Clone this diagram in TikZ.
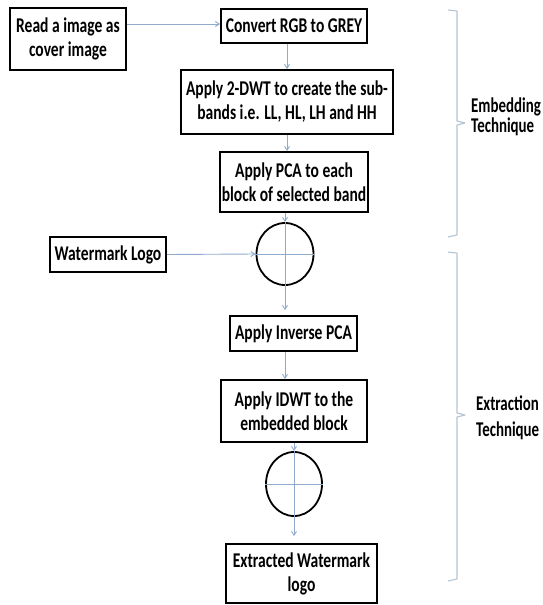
\documentclass[tikz,border=0pt]{standalone}
\usepackage{fontspec}
\setmainfont{Carlito}[FakeStretch=0.74]
\newfontfamily\sidefont{Carlito}[FakeStretch=0.71]
\usetikzlibrary{arrows.meta,shapes.geometric}
\definecolor{conncol}{HTML}{8FAACB}
\definecolor{bracecol}{HTML}{B4C4D2}
\begin{document}
\begin{tikzpicture}[x=1pt,y=1pt,
  stepbox/.style={draw=black,line width=1.8pt,inner sep=2pt,align=center,
     font=\fontsize{21}{24}\selectfont\bfseries},
  oplus/.style={draw=black,line width=1.8pt,ellipse,inner sep=0pt},
  conn/.style={draw=conncol,line width=0.9pt,-{Straight Barb[length=4pt,width=5pt]}},
  plain/.style={draw=conncol,line width=0.9pt},
  bracel/.style={draw=bracecol,line width=1.1pt,line join=round},
  sidelabel/.style={anchor=west,align=left,inner sep=0pt,
     font=\sidefont\fontsize{21}{20}\selectfont\bfseries}]
\useasboundingbox (0,0) rectangle (543,-605);

\node[stepbox,minimum width=116pt,minimum height=62pt] (b1) at (68,-39) {Read a image as\\cover image};
\node[stepbox,minimum width=146pt,minimum height=34pt] (b2) at (294,-26) {Convert RGB to GREY};
\node[stepbox,minimum width=212pt,minimum height=64pt] (b3) at (287,-102) {Apply 2-DWT to create the sub-\\bands i.e. LL, HL, LH and HH};
\node[stepbox,minimum width=146pt,minimum height=60pt] (b4) at (294,-182) {Apply PCA to each\\block of selected band};
\node[oplus,minimum width=57pt,minimum height=62pt] (c1) at (285,-254) {};
\node[stepbox,minimum width=116pt,minimum height=35pt] (wm) at (108,-254.5) {Watermark Logo};
\node[stepbox,minimum width=127pt,minimum height=35pt] (b5) at (293.5,-333.5) {Apply Inverse PCA};
\node[stepbox,minimum width=146pt,minimum height=62pt] (b6) at (294,-411) {Apply IDWT to the\\embedded block};
\node[oplus,minimum width=56pt,minimum height=64pt] (c2) at (294,-484) {};
\node[stepbox,minimum width=151pt,minimum height=59pt] (b7) at (301.5,-573.5) {Extracted Watermark\\logo};

% connectors
\draw[conn] (b1.east |- 0,-24) -- (b2.west |- 0,-24);
\draw[conn] (b2.south -| b3.north) -- (b3.north);
\draw[conn] (b3.south) -- (b4.north -| b3.south);
\draw[conn] (b4.south -| c1.north) -- (c1.north);
\draw[conn,shorten >=5pt] (c1.north) -- (b5.north -| c1.north);
\draw[conn] (wm.east) -- (c1.west);
\draw[plain] (c1.west) -- (c1.east);
\draw[conn] (b5.south -| c1.south) -- (b6.north -| c1.south);
\draw[conn] (b6.south -| c2.north) -- (c2.north);
\draw[conn,shorten >=7pt] (c2.north) -- (b7.north -| c2.north);
\draw[plain] (c2.west) -- (c2.east);

% braces
\draw[bracel] (448,-10) -- (457,-11) -- (457,-121) -- (465,-123) -- (457,-125) -- (457,-235) -- (448,-237);
\draw[bracel] (448,-252) -- (457,-253) -- (457,-413) -- (465,-415) -- (457,-417) -- (457,-579) -- (448,-581);

\node[sidelabel] (l1) at (471,-117) {Embedding\\Technique};
\node[sidelabel,font=\sidefont\fontsize{21}{26}\selectfont\bfseries] (l2) at (476,-418) {Extraction\\Technique};
\end{tikzpicture}
\end{document}
